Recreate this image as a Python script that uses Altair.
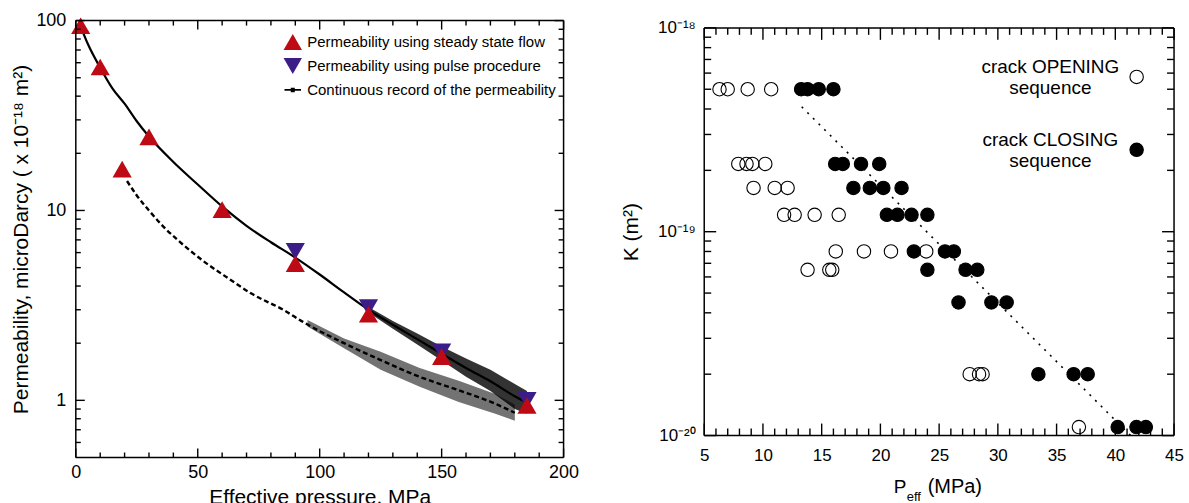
import math
import altair as alt
import pandas as pd

FONT = "Liberation Sans"

# ---------------- Left panel data ----------------
SERIES = [
    "Permeability using steady state flow",
    "Permeability using pulse procedure",
    "Continuous record of the permeability",
]
steady_p = [2, 10, 19, 30, 60, 90, 120, 150, 185]
steady_k = [94, 57, 16.5, 24.4, 10.1, 5.25, 2.84, 1.70, 0.94]
pulse_p = [90, 120, 150, 185]
pulse_k = [6.1, 3.08, 1.80, 1.0]

upper_p = [2, 5, 10, 15, 20, 25, 30, 40, 50, 60, 70, 80, 90, 100, 110, 120,
           130, 140, 150, 160, 170, 180, 185]
upper_k = [93, 75, 56.5, 44, 36.5, 29.5, 24.5, 18.0, 13.7, 10.5, 8.3, 6.8, 5.65,
           4.6, 3.7, 3.0, 2.5, 2.1, 1.76, 1.48, 1.26, 1.05, 0.97]
lower_p = [21, 25, 30, 36, 42, 52, 63, 72, 85, 94, 110, 125, 141, 157, 172, 180]
lower_k = [14.3, 12.0, 10.0, 8.2, 6.95, 5.45, 4.35, 3.65, 3.0, 2.55, 2.0, 1.63,
           1.33, 1.13, 0.96, 0.86]

# noisy envelope of the continuous records
uband_p = [120, 130, 140, 150, 160, 170, 180, 185]
uband_lo = [2.9, 2.38, 1.97, 1.62, 1.33, 1.12, 0.9, 0.85]
uband_hi = [3.1, 2.62, 2.25, 1.92, 1.66, 1.45, 1.22, 1.12]
lband_p = [95, 110, 125, 141, 157, 172, 180]
lband_lo = [2.45, 1.88, 1.45, 1.18, 0.98, 0.85, 0.78]
lband_hi = [2.65, 2.12, 1.8, 1.48, 1.27, 1.08, 0.95]

left_xdom = [0, 200]
left_ydom = [0.5, 100]
left_xmajor = [0, 50, 100, 150, 200]
left_xminor = [10, 20, 30, 40, 60, 70, 80, 90, 110, 120, 130, 140, 160, 170, 180, 190]
left_ymajor = [1, 10, 100]
left_yminor = [0.6, 0.7, 0.8, 0.9, 2, 3, 4, 5, 6, 7, 8, 9, 20, 30, 40, 50, 60, 70, 80, 90]

# ---------------- Right panel data ----------------
open_p = [6.3, 7.0, 8.7, 10.7,
          7.9, 8.6, 9.1, 10.2,
          9.2, 11.0, 12.1,
          11.8, 12.7, 14.4, 16.45,
          16.2, 18.6, 20.9, 23.9,
          13.8, 15.65, 15.9,
          27.6, 28.4, 28.7,
          36.9]
open_k = [5.0e-19, 5.0e-19, 5.0e-19, 5.0e-19,
          2.15e-19, 2.15e-19, 2.15e-19, 2.15e-19,
          1.64e-19, 1.64e-19, 1.64e-19,
          1.21e-19, 1.21e-19, 1.21e-19, 1.21e-19,
          8.0e-20, 8.0e-20, 8.0e-20, 8.0e-20,
          6.5e-20, 6.5e-20, 6.5e-20,
          2.0e-20, 2.0e-20, 2.0e-20,
          1.1e-20]
closed_p = [13.25, 13.8, 14.75, 16.0,
            16.15, 16.8, 18.35, 19.9,
            17.7, 19.1, 20.25, 21.8,
            20.55, 21.45, 22.65, 24.0,
            22.85, 25.5, 26.25,
            24.0, 27.25, 28.25,
            26.65, 29.45, 30.75,
            33.45, 36.45, 37.65,
            40.2, 41.8, 42.6]
closed_k = [5.0e-19, 5.0e-19, 5.0e-19, 5.0e-19,
            2.15e-19, 2.15e-19, 2.15e-19, 2.15e-19,
            1.64e-19, 1.64e-19, 1.64e-19, 1.64e-19,
            1.21e-19, 1.21e-19, 1.21e-19, 1.21e-19,
            8.0e-20, 8.0e-20, 8.0e-20,
            6.5e-20, 6.5e-20, 6.5e-20,
            4.5e-20, 4.5e-20, 4.5e-20,
            2.0e-20, 2.0e-20, 2.0e-20,
            1.1e-20, 1.1e-20, 1.1e-20]
trend_p = [13.3, 41.3]
trend_k = [4.1e-19, 1.0e-20]
SEQ = ["opening", "closing"]

right_xdom = [5, 45]
right_ydom = [1e-20, 1e-18]
right_xmajor = [5, 10, 15, 20, 25, 30, 35, 40, 45]
right_xminor = [6, 7, 8, 9, 11, 12, 13, 14, 16, 17, 18, 19, 21, 22, 23, 24, 26, 27, 28, 29,
                31, 32, 33, 34, 36, 37, 38, 39, 41, 42, 43, 44]
right_ymajor = [1e-20, 1e-19, 1e-18]
right_yminor = [2e-20, 3e-20, 4e-20, 5e-20, 6e-20, 7e-20, 8e-20, 9e-20,
                2e-19, 3e-19, 4e-19, 5e-19, 6e-19, 7e-19, 8e-19, 9e-19]

# ---------------- tables ----------------
pts = pd.DataFrame({
    "p": pulse_p + steady_p,
    "k": pulse_k + steady_k,
    "series": [SERIES[1]] * len(pulse_p) + [SERIES[0]] * len(steady_p),
})
upper = pd.DataFrame({"p": upper_p, "k": upper_k})
lower = pd.DataFrame({"p": lower_p, "k": lower_k})
uband = pd.DataFrame({"p": uband_p, "lo": uband_lo, "hi": uband_hi})
lband = pd.DataFrame({"p": lband_p, "lo": lband_lo, "hi": lband_hi})

rpts = pd.DataFrame({
    "p": open_p + closed_p,
    "k": open_k + closed_k,
    "seq": [SEQ[0]] * len(open_p) + [SEQ[1]] * len(closed_p),
})
trend = pd.DataFrame({"p": trend_p, "k": trend_k})


def frame_and_ticks(xs, ys, xdom, ydom, W, ypix, xmaj, xmin, ymaj, ymin, maj, mnr):
    """Frame plus inward ticks on all four sides (one layer per side), as rule
    segments in data space. ypix = pixel length of the y domain."""
    X = lambda f: alt.X(f, type="quantitative", scale=xs, axis=None)
    Y = lambda f: alt.Y(f, type="quantitative", scale=ys, axis=None)
    ppu = W / (xdom[1] - xdom[0])
    ppd = ypix / math.log10(ydom[1] / ydom[0])
    sides = {"bottom": [], "top": [], "left": [], "right": []}
    for vals, ln in ((xmaj, maj), (xmin, mnr)):
        f = 10 ** (ln / ppd)
        for v in vals:
            sides["bottom"].append((v, v, ydom[0] * f, ydom[0]))
            sides["top"].append((v, v, ydom[1], ydom[1] / f))
    for vals, ln in ((ymaj, maj), (ymin, mnr)):
        d = ln / ppu
        for v in vals:
            sides["left"].append((xdom[0] + d, xdom[0], v, v))
            sides["right"].append((xdom[1], xdom[1] - d, v, v))
    fr = pd.DataFrame({
        "x0": [xdom[0], xdom[0], xdom[0], xdom[1]],
        "x1": [xdom[1], xdom[1], xdom[0], xdom[1]],
        "y0": [ydom[0], ydom[1], ydom[0], ydom[0]],
        "y1": [ydom[0], ydom[1], ydom[1], ydom[1]],
    })
    out = [alt.Chart(fr).mark_rule(color="black", strokeWidth=1.5)
           .encode(x=X("x0"), x2="x1", y=Y("y0"), y2="y1")]
    for name, rows in sides.items():
        tk = pd.DataFrame(rows, columns=["ax", "bx", "ay", "by"])
        out.append(alt.Chart(tk).mark_rule(color="black", strokeWidth=1.4)
                   .encode(x=X("ax"), x2="bx", y=Y("ay"), y2="by"))
    return out


def label_axes(df, xs, ys, xkw, ykw):
    base = dict(ticks=False, domain=False, grid=False, labelFlush=False)
    return alt.Chart(df).mark_point(opacity=0).encode(
        x=alt.X("p:Q", scale=xs, axis=alt.Axis(orient="bottom", **base, **xkw)),
        y=alt.Y("k:Q", scale=ys, axis=alt.Axis(orient="left", **base, **ykw)),
    )


# ---------------- Left panel ----------------
LW, LH = 489, 438
lxs = alt.Scale(domain=left_xdom, nice=False, zero=False)
lys = alt.Scale(type="log", domain=left_ydom, nice=False)

ub = alt.Chart(uband).mark_area(color="black", opacity=0.8).encode(
    x=alt.X("p:Q", scale=lxs, axis=None),
    y=alt.Y("lo:Q", scale=lys, axis=None), y2="hi:Q")
lb = alt.Chart(lband).mark_area(color="black", opacity=0.55).encode(
    x=alt.X("p:Q", scale=lxs, axis=None),
    y=alt.Y("lo:Q", scale=lys, axis=None), y2="hi:Q")
uline = alt.Chart(upper).mark_line(color="black", strokeWidth=2.2, interpolate="monotone").encode(
    x=alt.X("p:Q", scale=lxs, axis=None), y=alt.Y("k:Q", scale=lys, axis=None))
lline = alt.Chart(lower).mark_line(color="black", strokeWidth=2.4, strokeDash=[5, 3],
                                   interpolate="monotone").encode(
    x=alt.X("p:Q", scale=lxs, axis=None), y=alt.Y("k:Q", scale=lys, axis=None))

line_sym = "M-0.9,-0.1H0.9V0.1H-0.9Z M-0.22,-0.24H0.22V0.24H-0.22Z"
tri = alt.Chart(pts).mark_point(filled=True, size=370, opacity=1, strokeWidth=0).encode(
    x=alt.X("p:Q", scale=lxs, axis=None),
    y=alt.Y("k:Q", scale=lys, axis=None),
    color=alt.Color("series:N", scale=alt.Scale(domain=SERIES, range=["#BE0A14", "#3C1C87", "black"]),
                    legend=alt.Legend(orient="none", legendX=208, legendY=12, title=None,
                                      labelFontSize=15, labelFont=FONT, labelColor="black",
                                      symbolSize=340, rowPadding=6, labelOffset=5, padding=0,
                                      labelLimit=400, symbolStrokeWidth=0, symbolOpacity=1)),
    shape=alt.Shape("series:N", scale=alt.Scale(domain=SERIES,
                                                range=["triangle-up", "triangle-down", line_sym])),
)

left_lab = label_axes(
    pts, lxs, lys,
    dict(values=left_xmajor, labelFontSize=18, labelPadding=6, title="Effective pressure, MPa",
         titleFontSize=21, titlePadding=5),
    dict(values=left_ymajor, labelFontSize=18, labelPadding=10, format="~g",
         title="Permeability, microDarcy ( x 10⁻¹⁸ m²)", titleFontSize=21, titlePadding=4),
)

left = alt.layer(
    left_lab, ub, lb, uline, lline, tri,
    *frame_and_ticks(lxs, lys, left_xdom, left_ydom, LW, LH, left_xmajor, left_xminor,
                     left_ymajor, left_yminor, 9, 5),
).properties(width=LW, height=LH).resolve_axis(x="independent", y="independent")

# ---------------- Right panel ----------------
RW, RH, RTOP = 471, 416, 7.3
rxs = alt.Scale(domain=right_xdom, nice=False, zero=False)
rys = alt.Scale(type="log", domain=right_ydom, nice=False, range=[RH, RTOP])

tline = alt.Chart(trend).mark_line(color="black", strokeWidth=1.6, strokeDash=[2, 6]).encode(
    x=alt.X("p:Q", scale=rxs, axis=None), y=alt.Y("k:Q", scale=rys, axis=None))

circ = alt.Chart(rpts).mark_point(shape="circle", size=180, stroke="black", strokeWidth=1.1,
                                  opacity=1).encode(
    x=alt.X("p:Q", scale=rxs, axis=None),
    y=alt.Y("k:Q", scale=rys, axis=None),
    fill=alt.Fill("seq:N", scale=alt.Scale(domain=SEQ, range=["transparent", "black"]),
                  legend=alt.Legend(orient="none", legendX=424, legendY=47, title=None,
                                    labelFontSize=19, labelFont=FONT, labelColor="black",
                                    labelAlign="center", labelBaseline="bottom",
                                    labelOffset={"expr": "-96"},
                                    labelExpr="datum.label == 'opening' ? ['crack OPENING', 'sequence'] : ['crack CLOSING', 'sequence']",
                                    symbolType="circle", symbolSize=180, symbolStrokeColor="black",
                                    symbolStrokeWidth=1.1, symbolOpacity=1, rowPadding=32,
                                    padding=0, labelLimit=300)),
)

right_lab = label_axes(
    rpts, rxs, rys,
    dict(values=right_xmajor, labelFontSize=17, labelPadding=12, title=None),
    dict(values=right_ymajor, labelFontSize=17, labelPadding=9, title="K (m²)",
         titleFontSize=21, titlePadding=16,
         labelExpr="datum.value < 3e-20 ? '10⁻²⁰' : (datum.value < 3e-19 ? '10⁻¹⁹' : '10⁻¹⁸')"),
)

one = pd.DataFrame({"t": [0]})
xt_p = alt.Chart(one).mark_text(align="left", baseline="middle", fontSize=19, font=FONT,
                                color="black").encode(
    x=alt.value(190), y=alt.value(468), text=alt.value("P"))
xt_eff = alt.Chart(one).mark_text(align="left", baseline="middle", fontSize=13, font=FONT,
                                  color="black").encode(
    x=alt.value(203), y=alt.value(478), text=alt.value("eff"))
xt_mpa = alt.Chart(one).mark_text(align="left", baseline="middle", fontSize=20, font=FONT,
                                  color="black").encode(
    x=alt.value(224), y=alt.value(468), text=alt.value("(MPa)"))

right = alt.layer(
    right_lab, tline, circ,
    *frame_and_ticks(rxs, rys, right_xdom, right_ydom, RW, RH - RTOP, right_xmajor, right_xminor,
                     right_ymajor, right_yminor, 12, 7),
    xt_p, xt_eff, xt_mpa,
).properties(width=RW, height=RH).resolve_axis(x="independent", y="independent")

chart = alt.hconcat(left, right, spacing=40).resolve_scale(
    color="independent", fill="independent", shape="independent"
).resolve_legend(
    color="independent", fill="independent", shape="independent"
).properties(
    padding={"left": 10, "top": 10, "right": 5, "bottom": 5}
).configure_view(stroke="transparent").configure_axis(
    labelFont=FONT, titleFont=FONT, labelColor="black", titleColor="black",
    titleFontWeight="normal"
).configure_text(font=FONT)

chart.save("out.html", embed_options={"renderer": "svg", "actions": False})
